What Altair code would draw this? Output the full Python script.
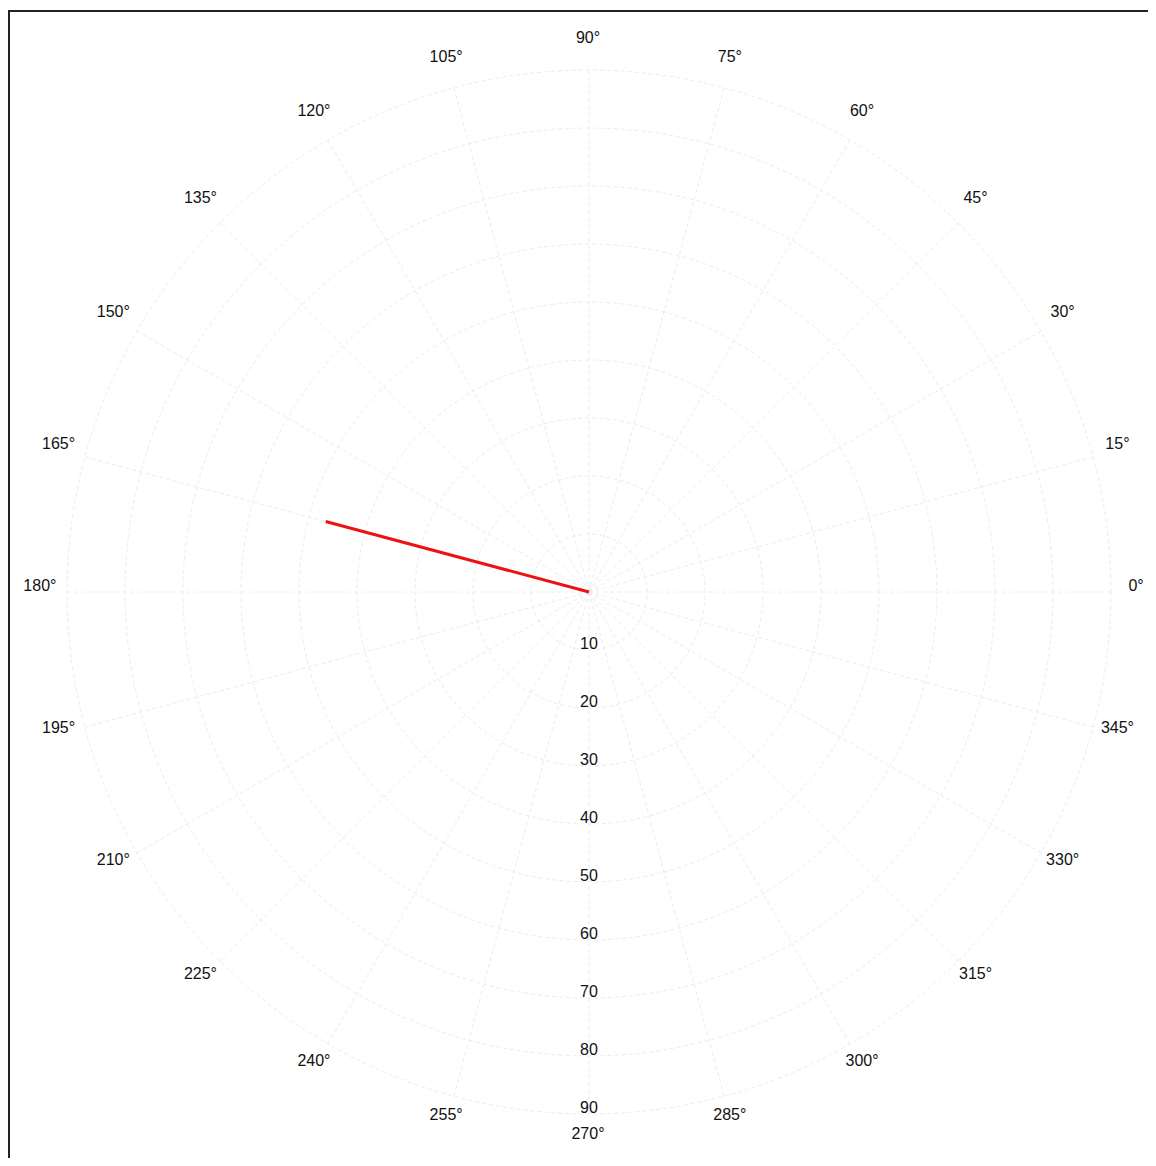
import numpy as np
import pandas as pd
import altair as alt

# ---- data ----
angle_ticks = list(range(0, 360, 15))                 # spoke / label angles (deg)
angle_labels = [f"{a}°" for a in angle_ticks]
ring_values = [10, 20, 30, 40, 50, 60, 70, 80, 90]   # radial grid values
ring_labels = [str(v) for v in ring_values]
series_angle = [165]                                  # direction of the red vector (deg)
series_value = [47]                                   # magnitude of the red vector

# ---- layout ----
W, H = 1140, 1150
CX, CY = 581, 584          # plot-area pixel of the pole
PX = 5.8                   # pixels per radial unit
RMAX = 90
LABEL_R = 94.5

xdom = [-CX / PX, (W - CX) / PX]
ydom = [-(H - CY) / PX, CY / PX]
xs = alt.Scale(domain=xdom, nice=False, zero=False)
ys = alt.Scale(domain=ydom, nice=False, zero=False)

GRID = "#ececec"
FONT = "Liberation Sans"

# ring polylines
ring_rows = []
for v in ring_values:
    for t in range(0, 361, 2):
        ring_rows.append({"ring": v, "t": t})
rings_df = pd.DataFrame(ring_rows)

rings = alt.Chart(rings_df).transform_calculate(
    x="datum.ring*cos(datum.t*PI/180)", y="datum.ring*sin(datum.t*PI/180)"
).mark_line(color=GRID, strokeWidth=1, strokeDash=[4, 3]).encode(
    x=alt.X("x:Q", scale=xs, axis=None),
    y=alt.Y("y:Q", scale=ys, axis=None),
    detail="ring:N",
    order="t:Q",
)

spokes_df = pd.DataFrame({"a": angle_ticks})
spokes = alt.Chart(spokes_df).transform_calculate(
    x0="0", y0="0",
    x1=f"{RMAX}*cos(datum.a*PI/180)", y1=f"{RMAX}*sin(datum.a*PI/180)"
).mark_rule(color=GRID, strokeWidth=1, strokeDash=[4, 3]).encode(
    x=alt.X("x0:Q", scale=xs, axis=None),
    y=alt.Y("y0:Q", scale=ys, axis=None),
    x2="x1:Q",
    y2="y1:Q",
)

alab_df = pd.DataFrame({"a": angle_ticks, "label": angle_labels})
alabels = alt.Chart(alab_df).transform_calculate(
    x=f"{LABEL_R}*cos(datum.a*PI/180)", y=f"{LABEL_R}*sin(datum.a*PI/180)"
).mark_text(font=FONT, fontSize=16, color="#111", align="center", baseline="middle",
            dx=-1, dy=-6).encode(
    x=alt.X("x:Q", scale=xs, axis=None),
    y=alt.Y("y:Q", scale=ys, axis=None),
    text="label:N",
)

rlab_df = pd.DataFrame({"v": ring_values, "label": ring_labels})
rlabels = alt.Chart(rlab_df).transform_calculate(
    x="0", y="-datum.v"
).mark_text(font=FONT, fontSize=16, color="#111", align="center", baseline="middle", dy=-6).encode(
    x=alt.X("x:Q", scale=xs, axis=None),
    y=alt.Y("y:Q", scale=ys, axis=None),
    text="label:N",
)

ser_df = pd.DataFrame({"a": series_angle, "r": series_value})
vector = alt.Chart(ser_df).transform_calculate(
    x0="0", y0="0",
    x1="datum.r*cos(datum.a*PI/180)", y1="datum.r*sin(datum.a*PI/180)"
).mark_rule(color="#ee1111", strokeWidth=3).encode(
    x=alt.X("x0:Q", scale=xs, axis=None),
    y=alt.Y("y0:Q", scale=ys, axis=None),
    x2="x1:Q",
    y2="y1:Q",
)

frame_data = alt.Data(values=[{"k": 1}])
frame_top = alt.Chart(frame_data).mark_rule(color="#222", strokeWidth=2).encode(
    x=alt.value(0), x2=alt.value(W), y=alt.value(3)
)
frame_left = alt.Chart(frame_data).mark_rule(color="#222", strokeWidth=2).encode(
    x=alt.value(1), y=alt.value(2), y2=alt.value(H)
)

chart = alt.layer(rings, spokes, rlabels, alabels, vector, frame_top, frame_left).properties(
    width=W, height=H, padding=0, autosize=alt.AutoSizeParams(type="none")
).configure_view(stroke=None)

chart.save("out.html", embed_options={"renderer": "svg", "actions": False})
